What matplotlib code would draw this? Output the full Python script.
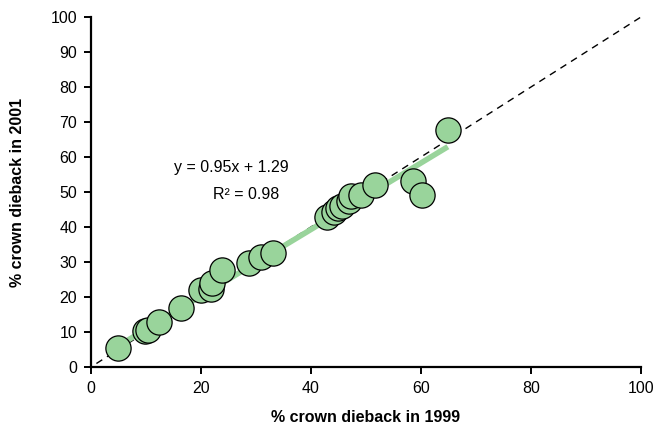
import matplotlib.pyplot as plt
import numpy as np

plt.rcParams["font.family"] = ["Liberation Sans", "DejaVu Sans"]

# % crown dieback per tree
dieback_1999 = [4.9, 9.8, 10.4, 12.3, 16.3, 20.0, 21.8, 22.0, 23.8, 28.8, 31.0,
                33.1, 42.9, 44.2, 44.9, 45.6, 47.0, 47.3, 49.1, 51.6, 58.6, 60.2,
                64.9]
dieback_2001 = [5.4, 10.2, 10.6, 12.8, 17.0, 22.0, 22.4, 24.0, 27.7, 29.6, 31.3,
                32.7, 42.9, 44.2, 45.5, 46.0, 47.5, 48.8, 49.2, 51.9, 53.2, 49.1,
                67.7]
slope, intercept = 0.95, 1.29

fig = plt.figure(figsize=(6.54, 4.26), dpi=100)
ax = fig.add_axes([0.139, 0.1385, 0.841, 0.8215])

# 1:1 reference line
ax.plot([1, 100], [1, 100], color="black", lw=1, ls=(0, (5, 4)), zorder=1)

# regression line over the data range
xfit = np.array([min(dieback_1999), max(dieback_1999)])
ax.plot(xfit, slope * xfit + intercept, color="#99d49b", lw=4,
        solid_capstyle="butt", zorder=2)

ax.scatter(dieback_1999, dieback_2001, s=330, facecolor="#99d49b",
           edgecolor="black", linewidth=0.9, zorder=3, clip_on=False)

ax.text(25.6, 56.9, f"y = {slope:.2f}x + {intercept:.2f}", ha="center",
        va="center", fontsize=11.5)
ax.text(28.3, 49.4, "R\u00b2 = 0.98", ha="center", va="center", fontsize=11.5)

ax.set_xlim(0, 100)
ax.set_ylim(0, 100)
ax.set_xticks(range(0, 101, 20))
ax.set_yticks(range(0, 101, 10))
for s in ["top", "right"]:
    ax.spines[s].set_visible(False)
for s in ["left", "bottom"]:
    ax.spines[s].set_linewidth(1.6)
ax.tick_params(width=1.4, length=5, labelsize=11.5, pad=5)
ax.set_xlabel("% crown dieback in 1999", fontsize=11.5, fontweight="bold",
              labelpad=10)
ax.set_ylabel("% crown dieback in 2001", fontsize=11.5, fontweight="bold",
              labelpad=18)

fig.savefig("out.png", dpi=100)
